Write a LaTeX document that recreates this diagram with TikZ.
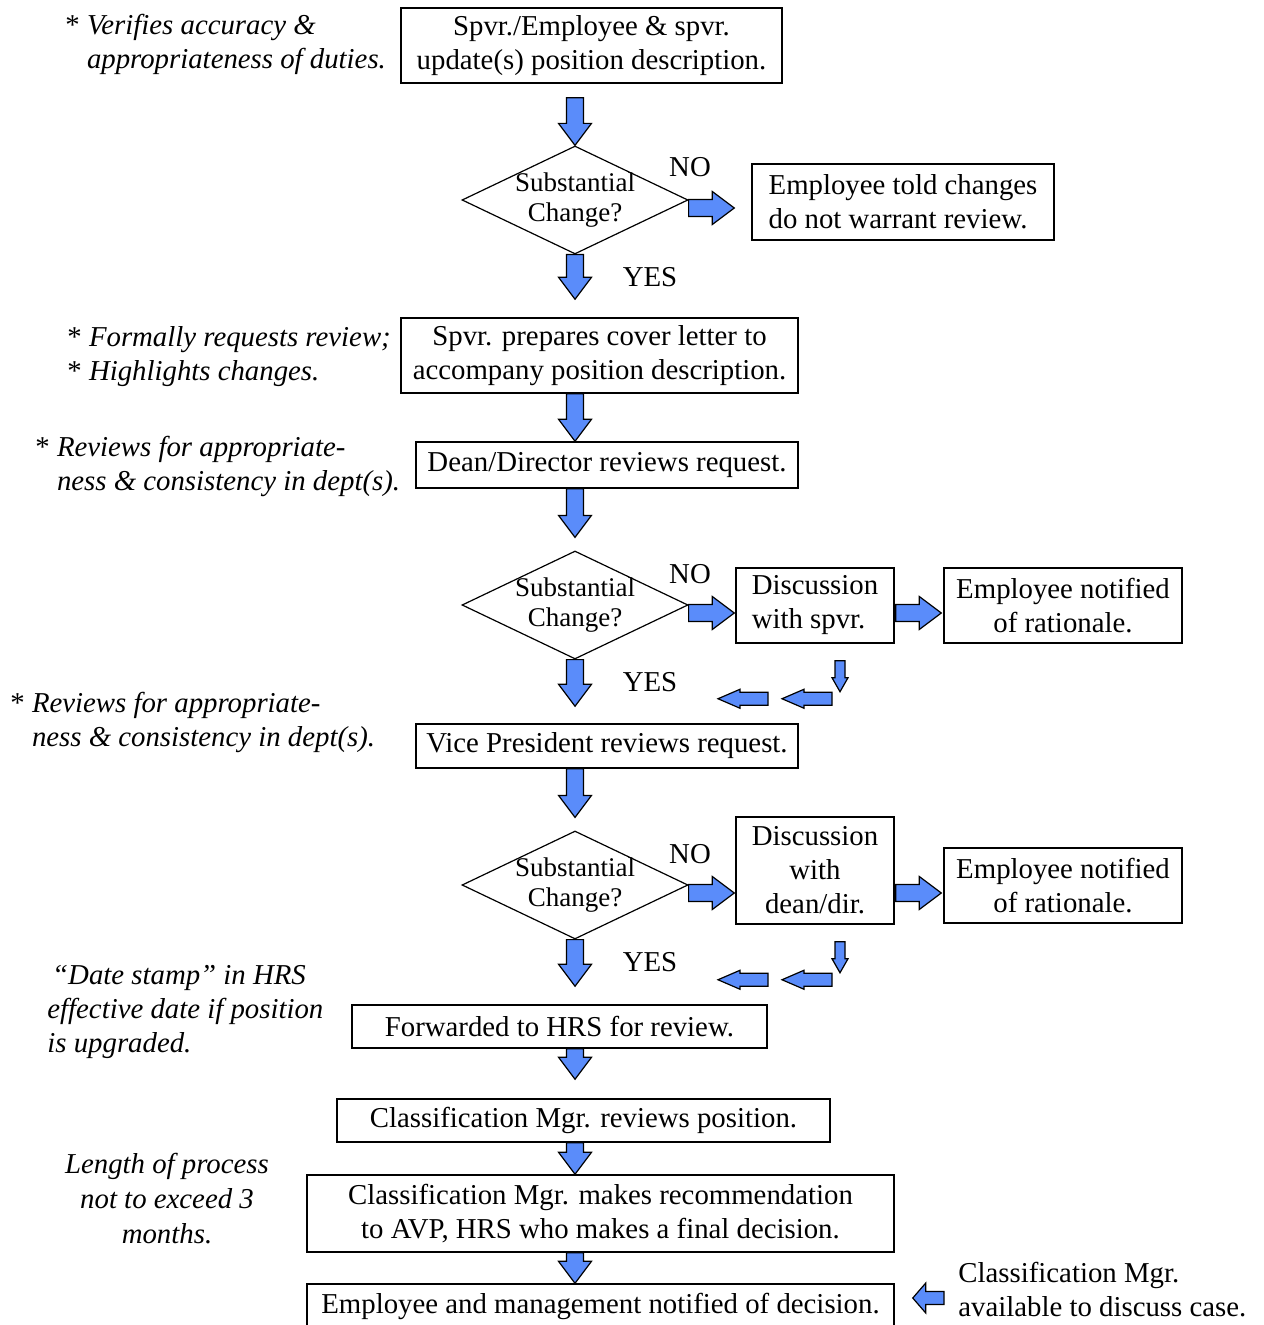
\documentclass[tikz,border=0pt]{standalone}
\usepackage{fontspec}
\setmainfont{Liberation Serif}
\usetikzlibrary{calc,shapes.geometric}
\definecolor{arrowblue}{RGB}{90,140,250}

\tikzset{
  shaft/.store in=\aShaft, headwidth/.store in=\aWide, headlen/.store in=\aHead,
  blockarrow/.style={draw=black, fill=arrowblue, line width=0.6pt, line join=miter,
    to path={let \p1=(\tikztostart), \p2=(\tikztotarget),
                 \p3=($(\p2)!\aHead!(\p1)$) in
      ($(\p1)!\aShaft!90:(\p2)$) -- ($(\p3)!\aShaft!90:(\p2)$)
      -- ($(\p3)!\aWide!90:(\p2)$) -- (\p2)
      -- ($(\p3)!\aWide!-90:(\p2)$) -- ($(\p3)!\aShaft!-90:(\p2)$)
      -- ($(\p1)!\aShaft!-90:(\p2)$) -- cycle}},
  bigarrow/.style={blockarrow, shaft=4.25pt, headwidth=8.25pt, headlen=11pt},
  backarrow/.style={blockarrow, shaft=3.25pt, headwidth=4.75pt, headlen=11pt},
  droparrow/.style={blockarrow, shaft=2.5pt, headwidth=4pt, headlen=7pt},
  sidearrow/.style={blockarrow, shaft=3.25pt, headwidth=7.5pt, headlen=6.5pt},
  box/.style={draw, line width=0.75pt, inner sep=2pt, align=center},
  dia/.style={draw, diamond, line width=0.6pt, minimum width=113pt, minimum height=54pt, inner sep=0pt},
  diatext/.style={align=center, inner sep=0pt, font=\fontsize{13.5}{15}\selectfont},
  note/.style={inner sep=0pt, align=left}
}

\begin{document}
\begin{tikzpicture}[x=0.5pt, y=-0.5pt, font=\fontsize{14.4}{17}\selectfont]
  % coordinates are pixels of the page, y going down
  \useasboundingbox (0,0) rectangle (1263,1325);

  \node[box, minimum width=190.5pt, minimum height=37.5pt] (b1) at (591.5,45.5)
    {Spvr./Employee \& spvr.\\update(s) position description.};
  \node[note, anchor=west] (v1) at (65,44)
    {* \textit{Verifies accuracy \&}\\\phantom{* }\textit{appropriateness of duties.}};

  \node[dia] (d1) at (575,200) {};
  \node[diatext] (t1) at (d1) {Substantial\\Change?};
  \node (no1) at (690,167) {NO};
  \node (yes1) at (650,277) {YES};
  \node[box, align=left, minimum width=151pt, minimum height=38pt] (e1) at (903,202)
    {Employee told changes\\do not warrant review.};

  \node[box, minimum width=198.5pt, minimum height=37.5pt] (b2) at (599.5,355.5)
    {Spvr. prepares cover letter to\\accompany position description.};
  \node[note, anchor=west] (v2) at (67,357)
    {* \textit{Formally requests review;}\\* \textit{Highlights changes.}};

  \node[box, minimum width=191pt, minimum height=23pt] (b3) at (607,465)
    {Dean/Director reviews request.};
  \node[note, anchor=west] (v3) at (35,466)
    {* \textit{Reviews for appropriate-}\\\phantom{* }\textit{ness \& consistency in dept(s).}};

  \node[dia] (d2) at (575,605) {};
  \node[diatext] (t2) at (d2) {Substantial\\Change?};
  \node (no2) at (690,574) {NO};
  \node (yes2) at (650,682) {YES};
  \node[box, align=left, minimum width=79pt, minimum height=37.5pt] (s1) at (815,605.5)
    {Discussion\\with spvr.};
  \node[box, minimum width=119pt, minimum height=37.5pt] (n1) at (1063,605.5)
    {Employee notified\\of rationale.};

  \node[box, minimum width=191pt, minimum height=22pt] (b4) at (607,746)
    {Vice President reviews request.};
  \node[note, anchor=west] (v4) at (10,722)
    {* \textit{Reviews for appropriate-}\\\phantom{* }\textit{ness \& consistency in dept(s).}};

  \node[dia] (d3) at (575,885) {};
  \node[diatext] (t3) at (d3) {Substantial\\Change?};
  \node (no3) at (690,854) {NO};
  \node (yes3) at (650,962) {YES};
  \node[box, minimum width=79pt, minimum height=53.5pt] (s2) at (815,870.5)
    {Discussion\\with\\dean/dir.};
  \node[box, minimum width=119pt, minimum height=37.5pt] (n2) at (1063,885.5)
    {Employee notified\\of rationale.};

  \node[box, minimum width=207.5pt, minimum height=21.5pt] (b5) at (559.5,1026.5)
    {Forwarded to HRS for review.};
  \node[note, anchor=west, font=\fontsize{14.4}{17}\selectfont\itshape] (v5) at (47,1012)
    {\,``Date stamp'' in HRS\\effective date if position\\is upgraded.};

  \node[box, minimum width=246.5pt, minimum height=21.5pt] (b6) at (583.5,1120.5)
    {Classification Mgr. reviews position.};
  \node[box, minimum width=293.5pt, minimum height=38.5pt] (b7) at (600.5,1213.5)
    {Classification Mgr. makes recommendation\\to AVP, HRS who makes a final decision.};
  \node[note, align=center, font=\fontsize{14.4}{17.5}\selectfont\itshape] (v6) at (167,1199)
    {Length of process\\not to exceed 3\\months.};

  \node[box, minimum width=293.5pt, minimum height=22pt] (b8) at (600.5,1306)
    {Employee and management notified of decision.};
  \node[note, anchor=west] (c1) at (958,1290)
    {Classification Mgr.\\available to discuss case.};

  % main line of block arrows
  \draw[bigarrow] ($(b1.south -| d1.north)+(0,14)$) to (d1.north);
  \draw[bigarrow] (d1.south) to ($(b2.north -| d1.south)+(0,-18)$);
  \draw[bigarrow] (b2.south -| d1.south) to (b3.north -| d1.south);
  \draw[bigarrow] (b3.south -| d2.north) to ($(d2.north)+(0,-13)$);
  \draw[bigarrow] (d2.south) to ($(b4.north -| d2.south)+(0,-17)$);
  \draw[bigarrow] (b4.south -| d3.north) to ($(d3.north)+(0,-13)$);
  \draw[bigarrow] (d3.south) to ($(b5.north -| d3.south)+(0,-18)$);
  \draw[bigarrow] (b5.south -| d3.south) to ($(b6.north -| d3.south)+(0,-19)$);
  \draw[bigarrow] (b6.south -| d3.south) to (b7.north -| d3.south);
  \draw[bigarrow] (b7.south -| d3.south) to (b8.north -| d3.south);

  % NO branches
  \draw[bigarrow] ($(d1.east)+(0,8)$) to ($(e1.west)+(-17,6)$);
  \draw[bigarrow] ($(d2.east)+(0,8)$) to ($(s1.west)+(-1,7.5)$);
  \draw[bigarrow] ($(s1.east)+(1,7.5)$) to ($(n1.west)+(-2,7.5)$);
  \draw[bigarrow] ($(d3.east)+(0,8)$) to ($(d3.east -| s2.west)+(-1,8)$);
  \draw[bigarrow] ($(n2.west -| s2.east)+(1,7.5)$) to ($(n2.west)+(-2,7.5)$);

  % back to the main line
  \foreach \s in {s1,s2}{
    \draw[droparrow] ($(\s.south)+(25,17)$) to ($(\s.south)+(25,48)$);
    \draw[backarrow] ($(\s.south)+(17,55)$) to ($(\s.south)+(-33,55)$);
    \draw[backarrow] ($(\s.south)+(-47,55)$) to ($(\s.south)+(-97,55)$);
  }

  \draw[sidearrow] ($(c1.west)+(-14,8)$) to ($(b8.east)+(18,-8)$);
\end{tikzpicture}
\end{document}
